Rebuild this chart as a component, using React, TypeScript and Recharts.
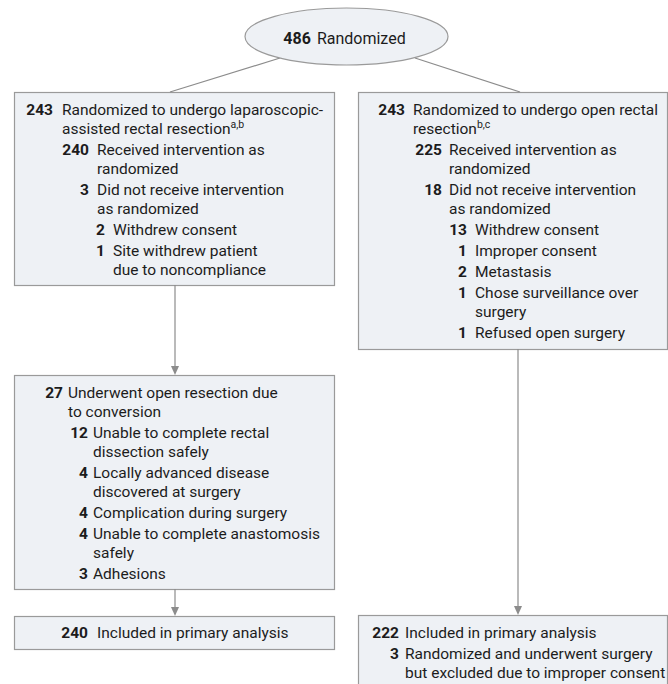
import React from 'react';
import { ComposedChart, XAxis, YAxis, ReferenceArea, ReferenceLine, ReferenceDot } from 'recharts';

// ---------- content ----------
const randomizedTotal = 486;
const randomizedLabel = 'Randomized';

type Item = { n: number; text: string[]; sup?: string; level: number };

const lapAllocation: Item[] = [
  { n: 243, text: ['Randomized to undergo laparoscopic-', 'assisted rectal resection'], sup: 'a,b', level: 0 },
  { n: 240, text: ['Received intervention as', 'randomized'], level: 1 },
  { n: 3, text: ['Did not receive intervention', 'as randomized'], level: 1 },
  { n: 2, text: ['Withdrew consent'], level: 2 },
  { n: 1, text: ['Site withdrew patient', 'due to noncompliance'], level: 2 },
];

const openAllocation: Item[] = [
  { n: 243, text: ['Randomized to undergo open rectal', 'resection'], sup: 'b,c', level: 0 },
  { n: 225, text: ['Received intervention as', 'randomized'], level: 1 },
  { n: 18, text: ['Did not receive intervention', 'as randomized'], level: 1 },
  { n: 13, text: ['Withdrew consent'], level: 2 },
  { n: 1, text: ['Improper consent'], level: 2 },
  { n: 2, text: ['Metastasis'], level: 2 },
  { n: 1, text: ['Chose surveillance over', 'surgery'], level: 2 },
  { n: 1, text: ['Refused open surgery'], level: 2 },
];

const lapConversion: Item[] = [
  { n: 27, text: ['Underwent open resection due', 'to conversion'], level: 0 },
  { n: 12, text: ['Unable to complete rectal', 'dissection safely'], level: 1 },
  { n: 4, text: ['Locally advanced disease', 'discovered at surgery'], level: 1 },
  { n: 4, text: ['Complication during surgery'], level: 1 },
  { n: 4, text: ['Unable to complete anastomosis', 'safely'], level: 1 },
  { n: 3, text: ['Adhesions'], level: 1 },
];

const lapAnalysis: Item[] = [{ n: 240, text: ['Included in primary analysis'], level: 0 }];

const openAnalysis: Item[] = [
  { n: 222, text: ['Included in primary analysis'], level: 0 },
  { n: 3, text: ['Randomized and underwent surgery', 'but excluded due to improper consent'], level: 0 },
];

// ---------- layout (positions / styles) ----------
const W = 668;
const H = 684;
const FONT = "Roboto, 'Noto Sans', sans-serif";
const FS = 15.5;
const FILL = '#eef1f5';
const STROKE = '#9a9a9a';
const LINE = '#8c8c8c';
const INK = '#1c1c1c';
const CONT_STEP = 19;
const ITEM_STEP = 21;

const boxes = [
  { items: lapAllocation, x1: 14, x2: 334, y1: 92, y2: 285, cols: [[39, 48], [75, 83], [91, 99]], first: 18 },
  { items: openAllocation, x1: 358, x2: 667, y1: 92, y2: 349, cols: [[47, 55], [84, 91], [109, 117]], first: 18 },
  { items: lapConversion, x1: 14, x2: 334, y1: 375, y2: 589, cols: [[49, 54], [74, 79]], first: 18 },
  { items: lapAnalysis, x1: 14, x2: 334, y1: 616, y2: 649, cols: [[74, 83]], first: 17 },
  { items: openAnalysis, x1: 358, x2: 667, y1: 615, y2: 720, cols: [[41, 47]], first: 18 },
];

const ellipse = { cx: 346.5, cy: 36.5, rx: 101.5, ry: 28.5 };

const connectors = [
  { from: [280, 58], to: [170, 92], arrow: false },
  { from: [415, 58], to: [520, 92], arrow: false },
  { from: [175, 285], to: [175, 375], arrow: true },
  { from: [175, 589], to: [175, 616], arrow: true },
  { from: [518, 349], to: [518, 615], arrow: true },
];

function makeBoxShape(items: Item[], cols: number[][], first: number) {
  return (props: any) => {
    const { x, y, width, height } = props;
    const lines: React.ReactNode[] = [];
    let cy = y + first;
    items.forEach((it, i) => {
      if (i > 0) cy += ITEM_STEP;
      const [numR, textL] = cols[it.level];
      lines.push(
        <text key={`n${i}`} x={x + numR} y={cy} textAnchor="end" dominantBaseline="central"
          fontFamily={FONT} fontSize={FS} fontWeight={700} fill={INK}>{it.n}</text>
      );
      it.text.forEach((t, j) => {
        if (j > 0) cy += CONT_STEP;
        const isLast = j === it.text.length - 1;
        lines.push(
          <text key={`t${i}-${j}`} x={x + textL} y={cy} textAnchor="start" dominantBaseline="central"
            fontFamily={FONT} fontSize={FS} fill={INK}>
            {t}
            {isLast && it.sup ? <tspan fontSize={10.5} dy={-5}>{it.sup}</tspan> : null}
          </text>
        );
      });
    });
    return (
      <g>
        <rect x={x + 0.5} y={y + 0.5} width={width} height={height} fill={FILL} stroke={STROKE} strokeWidth={1.2} />
        {lines}
      </g>
    );
  };
}

function connectorShape(arrow: boolean) {
  return (props: any) => {
    const x1 = props.x1 ?? props.points?.[0]?.x;
    const y1 = props.y1 ?? props.points?.[0]?.y;
    const x2 = props.x2 ?? props.points?.[1]?.x;
    const y2 = props.y2 ?? props.points?.[1]?.y;
    const ah = 9;
    const aw = 4;
    return (
      <g>
        <line x1={x1} y1={y1} x2={x2} y2={arrow ? y2 - ah + 1 : y2} stroke={LINE} strokeWidth={1.2} />
        {arrow ? (
          <path d={`M${x2 - aw},${y2 - ah} L${x2 + aw},${y2 - ah} L${x2},${y2} Z`} fill={LINE} />
        ) : null}
      </g>
    );
  };
}

const ellipseShape = (props: any) => {
  const { cx, cy } = props;
  return (
    <g>
      <ellipse cx={cx} cy={cy} rx={ellipse.rx} ry={ellipse.ry} fill={FILL} stroke={STROKE} strokeWidth={1.2} />
      <text x={cx - 2} y={cy + 1} textAnchor="middle" dominantBaseline="central" fontFamily={FONT} fontSize={16} fill={INK}>
        <tspan fontWeight={700}>{randomizedTotal}</tspan>
        <tspan dx={6}>{randomizedLabel}</tspan>
      </text>
    </g>
  );
};

export default function App() {
  return (
    <div style={{ position: 'absolute', left: 0, top: 0, width: W, height: H, background: '#fff' }}>
      <ComposedChart width={W} height={H} data={[{ x: 0, y: 0 }, { x: W, y: H }]} margin={{ top: 0, right: 0, bottom: 0, left: 0 }}>
        <XAxis type="number" dataKey="x" domain={[0, W]} hide allowDataOverflow />
        <YAxis type="number" dataKey="y" domain={[0, H]} reversed hide allowDataOverflow />
        {connectors.map((c, i) => (
          <ReferenceLine key={`c${i}`} segment={[{ x: c.from[0], y: c.from[1] }, { x: c.to[0], y: c.to[1] }]}
            ifOverflow="visible" shape={connectorShape(c.arrow)} stroke={LINE} />
        ))}
        {boxes.map((b, i) => (
          <ReferenceArea key={`b${i}`} x1={b.x1} x2={b.x2} y1={b.y1} y2={b.y2} ifOverflow="visible"
            shape={makeBoxShape(b.items, b.cols, b.first)} />
        ))}
        <ReferenceDot x={ellipse.cx} y={ellipse.cy} r={ellipse.rx} ifOverflow="visible" shape={ellipseShape} />
      </ComposedChart>
    </div>
  );
}
